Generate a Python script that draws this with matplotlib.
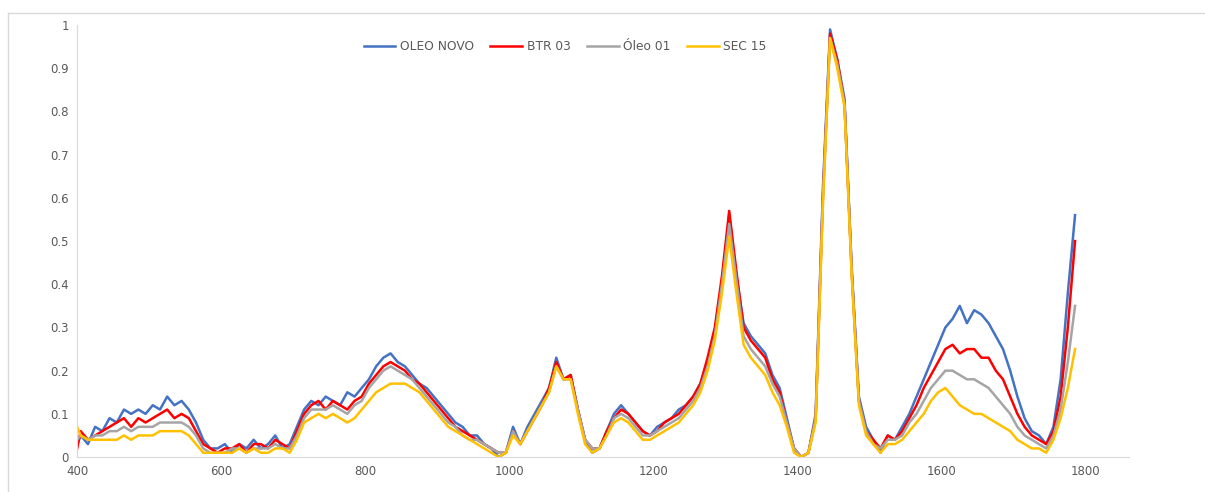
import numpy as np
import matplotlib.pyplot as plt
from matplotlib.lines import Line2D

# wavenumber grid (cm-1)
wn = np.r_[400, np.arange(405, 1795, 10)]

oleo_novo = [0.03,
    0.05, 0.03, 0.07, 0.06, 0.09, 0.08, 0.11, 0.10, 0.11, 0.10,
    0.12, 0.11, 0.14, 0.12, 0.13, 0.11, 0.08, 0.04, 0.02, 0.02,
    0.03, 0.01, 0.03, 0.02, 0.04, 0.02, 0.03, 0.05, 0.02, 0.03,
    0.07, 0.11, 0.13, 0.12, 0.14, 0.13, 0.12, 0.15, 0.14, 0.16,
    0.18, 0.21, 0.23, 0.24, 0.22, 0.21, 0.19, 0.17, 0.16, 0.14,
    0.12, 0.10, 0.08, 0.07, 0.05, 0.05, 0.03, 0.02, 0.00, 0.01,
    0.07, 0.03, 0.07, 0.10, 0.13, 0.16, 0.23, 0.18, 0.19, 0.11,
    0.04, 0.01, 0.02, 0.06, 0.10, 0.12, 0.10, 0.08, 0.06, 0.05,
    0.07, 0.08, 0.09, 0.11, 0.12, 0.14, 0.17, 0.22, 0.28, 0.40,
    0.56, 0.42, 0.31, 0.28, 0.26, 0.24, 0.19, 0.16, 0.09, 0.02,
    0.00, 0.01, 0.10, 0.62, 0.99, 0.92, 0.83, 0.44, 0.14, 0.07,
    0.04, 0.01, 0.05, 0.04, 0.07, 0.10, 0.14, 0.18, 0.22, 0.26,
    0.30, 0.32, 0.35, 0.31, 0.34, 0.33, 0.31, 0.28, 0.25, 0.20,
    0.14, 0.09, 0.06, 0.05, 0.03, 0.07, 0.18, 0.38, 0.56]

btr_03 = [0.02,
    0.06, 0.04, 0.05, 0.06, 0.07, 0.08, 0.09, 0.07, 0.09, 0.08,
    0.09, 0.10, 0.11, 0.09, 0.10, 0.09, 0.06, 0.03, 0.02, 0.01,
    0.02, 0.02, 0.03, 0.01, 0.03, 0.03, 0.02, 0.04, 0.03, 0.02,
    0.06, 0.10, 0.12, 0.13, 0.11, 0.13, 0.12, 0.11, 0.13, 0.14,
    0.17, 0.19, 0.21, 0.22, 0.21, 0.20, 0.18, 0.17, 0.15, 0.13,
    0.11, 0.09, 0.07, 0.06, 0.05, 0.04, 0.03, 0.02, 0.01, 0.01,
    0.06, 0.03, 0.06, 0.09, 0.12, 0.16, 0.22, 0.18, 0.19, 0.11,
    0.04, 0.02, 0.02, 0.06, 0.09, 0.11, 0.10, 0.08, 0.06, 0.05,
    0.06, 0.08, 0.09, 0.10, 0.12, 0.14, 0.17, 0.23, 0.30, 0.42,
    0.57, 0.43, 0.30, 0.27, 0.25, 0.23, 0.18, 0.15, 0.08, 0.02,
    0.00, 0.01, 0.09, 0.60, 0.98, 0.92, 0.82, 0.43, 0.13, 0.06,
    0.04, 0.02, 0.05, 0.04, 0.06, 0.09, 0.12, 0.16, 0.19, 0.22,
    0.25, 0.26, 0.24, 0.25, 0.25, 0.23, 0.23, 0.20, 0.18, 0.14,
    0.10, 0.07, 0.05, 0.04, 0.03, 0.06, 0.14, 0.30, 0.50]

oleo_01 = [0.04,
    0.05, 0.04, 0.05, 0.05, 0.06, 0.06, 0.07, 0.06, 0.07, 0.07,
    0.07, 0.08, 0.08, 0.08, 0.08, 0.07, 0.05, 0.02, 0.01, 0.01,
    0.01, 0.02, 0.02, 0.01, 0.02, 0.02, 0.02, 0.03, 0.02, 0.02,
    0.05, 0.09, 0.11, 0.11, 0.11, 0.12, 0.11, 0.10, 0.12, 0.13,
    0.16, 0.18, 0.20, 0.21, 0.20, 0.19, 0.18, 0.16, 0.14, 0.12,
    0.10, 0.08, 0.07, 0.05, 0.04, 0.04, 0.03, 0.02, 0.01, 0.01,
    0.06, 0.03, 0.06, 0.09, 0.12, 0.15, 0.21, 0.18, 0.18, 0.11,
    0.04, 0.02, 0.02, 0.05, 0.09, 0.10, 0.09, 0.07, 0.05, 0.05,
    0.06, 0.07, 0.08, 0.09, 0.11, 0.13, 0.16, 0.21, 0.28, 0.40,
    0.54, 0.41, 0.28, 0.25, 0.23, 0.21, 0.17, 0.14, 0.08, 0.02,
    0.00, 0.01, 0.09, 0.60, 0.97, 0.91, 0.82, 0.43, 0.13, 0.06,
    0.03, 0.02, 0.04, 0.04, 0.05, 0.08, 0.10, 0.13, 0.16, 0.18,
    0.20, 0.20, 0.19, 0.18, 0.18, 0.17, 0.16, 0.14, 0.12, 0.10,
    0.07, 0.05, 0.04, 0.03, 0.02, 0.05, 0.11, 0.22, 0.35]

sec_15 = [0.07,
    0.05, 0.04, 0.04, 0.04, 0.04, 0.04, 0.05, 0.04, 0.05, 0.05,
    0.05, 0.06, 0.06, 0.06, 0.06, 0.05, 0.03, 0.01, 0.01, 0.01,
    0.01, 0.01, 0.02, 0.01, 0.02, 0.01, 0.01, 0.02, 0.02, 0.01,
    0.04, 0.08, 0.09, 0.10, 0.09, 0.10, 0.09, 0.08, 0.09, 0.11,
    0.13, 0.15, 0.16, 0.17, 0.17, 0.17, 0.16, 0.15, 0.13, 0.11,
    0.09, 0.07, 0.06, 0.05, 0.04, 0.03, 0.02, 0.01, 0.00, 0.01,
    0.05, 0.03, 0.06, 0.09, 0.12, 0.15, 0.21, 0.18, 0.18, 0.10,
    0.03, 0.01, 0.02, 0.05, 0.08, 0.09, 0.08, 0.06, 0.04, 0.04,
    0.05, 0.06, 0.07, 0.08, 0.10, 0.12, 0.15, 0.20, 0.27, 0.38,
    0.51, 0.38, 0.26, 0.23, 0.21, 0.19, 0.15, 0.12, 0.07, 0.01,
    0.00, 0.01, 0.08, 0.58, 0.97, 0.90, 0.81, 0.42, 0.12, 0.05,
    0.03, 0.01, 0.03, 0.03, 0.04, 0.06, 0.08, 0.10, 0.13, 0.15,
    0.16, 0.14, 0.12, 0.11, 0.10, 0.10, 0.09, 0.08, 0.07, 0.06,
    0.04, 0.03, 0.02, 0.02, 0.01, 0.04, 0.09, 0.16, 0.25]

series = [("OLEO NOVO", oleo_novo, "#4472C4"),
          ("BTR 03", btr_03, "#FF0000"),
          ("Óleo 01", oleo_01, "#A5A5A5"),
          ("SEC 15", sec_15, "#FFC000")]

fig = plt.figure(figsize=(12.05, 4.92), dpi=100)
ax = fig.add_axes([0.064, 0.071, 0.873, 0.878])

for name, vals, col in series:
    ax.plot(wn, vals, color=col, lw=1.8, label=name)

ax.set_xlim(400, 1860)
ax.set_ylim(0, 1)
ax.set_xticks(range(400, 1801, 200))
ax.set_yticks(np.arange(0, 1.01, 0.1))
ax.set_yticklabels(["0"] + [f"{v:.1f}" for v in np.arange(0.1, 0.95, 0.1)] + ["1"])
ax.tick_params(length=0, labelsize=8.5, colors="#595959", pad=6)
for s in ["top", "right"]:
    ax.spines[s].set_visible(False)
for s in ["left", "bottom"]:
    ax.spines[s].set_color("#D9D9D9")

ax.legend(loc="upper center", bbox_to_anchor=(0.464, 0.99), ncol=4, frameon=False,
          fontsize=8.8, handlelength=2.6, columnspacing=1.3, handletextpad=0.4,
          labelcolor="#595959")

# light outer frame (top and left edges)
fig.add_artist(Line2D([8 / 1205, 1], [1 - 13 / 492] * 2, color="#D9D9D9", lw=1))
fig.add_artist(Line2D([8 / 1205] * 2, [0, 1 - 13 / 492], color="#D9D9D9", lw=1))

fig.savefig("out.png", dpi=100)
